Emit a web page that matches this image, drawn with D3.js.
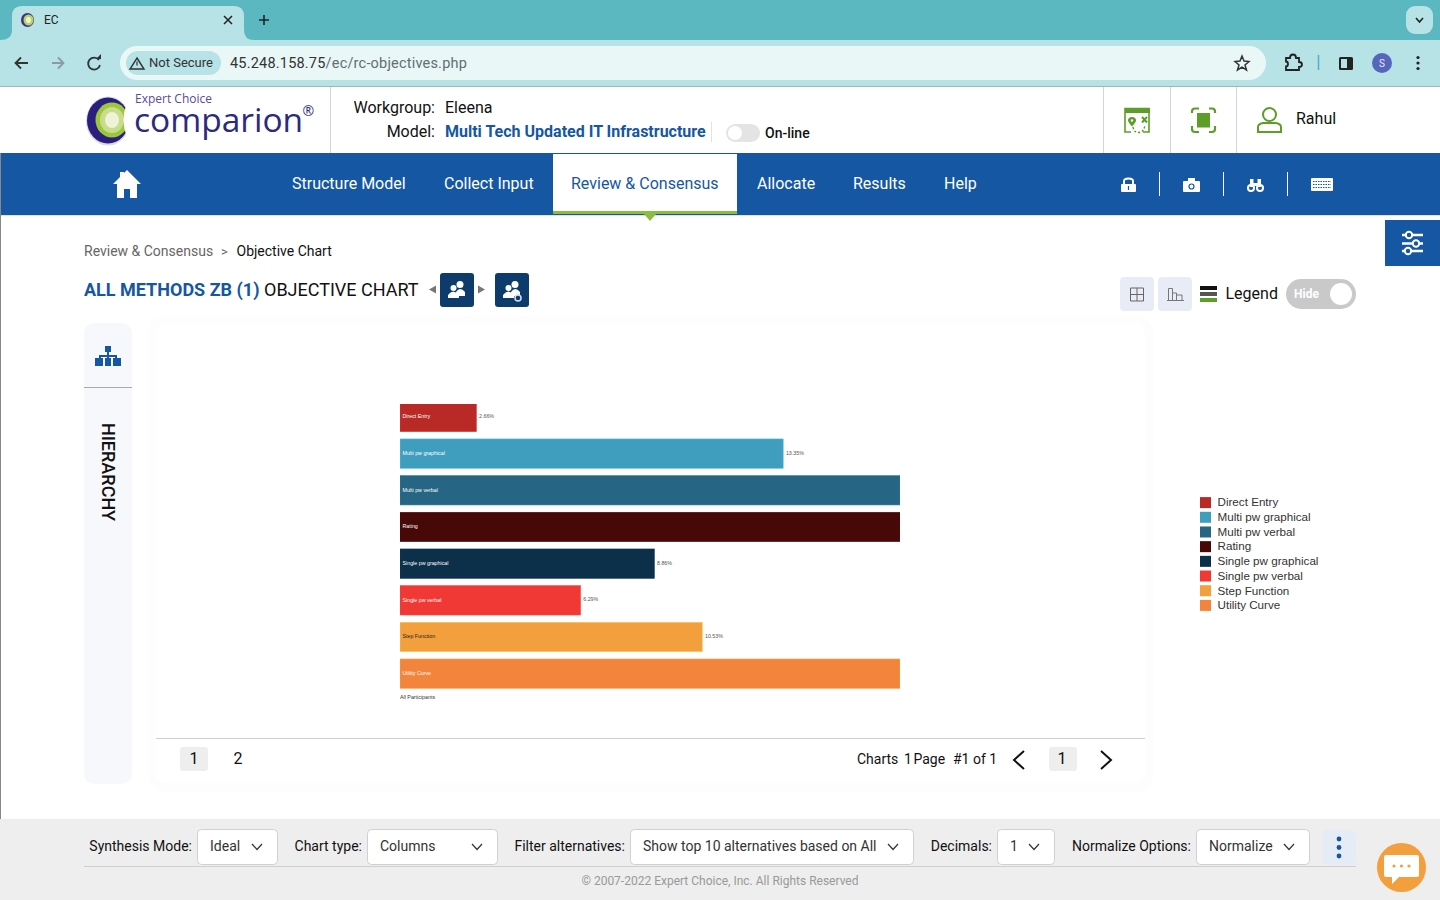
<!DOCTYPE html>
<html>
<head>
<meta charset="utf-8">
<title>EC</title>
<script src="https://cdn.jsdelivr.net/npm/d3@7"></script>
<style>
  html, body { margin: 0; padding: 0; background: #fff; overflow: hidden; }
  svg { display: block; }
  text { font-family: Roboto, sans-serif; }
</style>
</head>
<body>
<svg id="plot" width="1440" height="900"></svg>
<script>
// chart data
var methods = ["Direct Entry", "Multi pw graphical", "Multi pw verbal", "Rating",
  "Single pw graphical", "Single pw verbal", "Step Function", "Utility Curve"];
// three bars run past the plot edge and show no label, those values are estimates
var priorities = [2.66, 13.35, 19.4, 19.5, 8.86, 6.29, 10.53, 19.41];
var showLabel = [true, true, false, false, true, true, true, false];
var barColors = ["#b92a26", "#3f9dbe", "#266684", "#470808", "#0c2f4a", "#f03835", "#f49f3d", "#f2843b"];
var labelColors = ["#fff", "#fff", "#fff", "#fff", "#fff", "#fff", "#222", "#fff"];
var groups = ["All Participants"];
var domainMax = 17.42;

// page text
var navItems = ["Structure Model", "Collect Input", "Review & Consensus", "Allocate", "Results", "Help"];
var navX = [292, 444, 571, 757, 853, 944];
var footerSelects = [
  {label: "Synthesis Mode:", value: "Ideal", x: 197, w: 80},
  {label: "Chart type:", value: "Columns", x: 367, w: 130},
  {label: "Filter alternatives:", value: "Show top 10 alternatives based on All", x: 630, w: 283},
  {label: "Decimals:", value: "1", x: 997, w: 57},
  {label: "Normalize Options:", value: "Normalize", x: 1196, w: 113}
];

var svg = d3.select("#plot");

function rect(x, y, w, h, fill, rx) {
  return svg.append("rect").attr("x", x).attr("y", y).attr("width", w).attr("height", h)
    .attr("fill", fill).attr("rx", rx || 0);
}
function label(x, y, str, size, fill, weight, anchor) {
  return svg.append("text").attr("x", x).attr("y", y).text(str)
    .attr("font-size", size).attr("fill", fill || "#000")
    .attr("font-weight", weight || 400).attr("text-anchor", anchor || "start");
}
function line(x1, y1, x2, y2, stroke, w) {
  return svg.append("line").attr("x1", x1).attr("y1", y1).attr("x2", x2).attr("y2", y2)
    .attr("stroke", stroke).attr("stroke-width", w || 1);
}
function path(d, fill, stroke, w) {
  return svg.append("path").attr("d", d).attr("fill", fill || "none")
    .attr("stroke", stroke || "none").attr("stroke-width", w || 1);
}
function circle(x, y, r, fill, stroke, w) {
  return svg.append("circle").attr("cx", x).attr("cy", y).attr("r", r).attr("fill", fill || "none")
    .attr("stroke", stroke || "none").attr("stroke-width", w || 1);
}
function ellipse(x, y, rx, ry, fill) {
  return svg.append("ellipse").attr("cx", x).attr("cy", y).attr("rx", rx).attr("ry", ry).attr("fill", fill);
}

// browser chrome
rect(0, 0, 1440, 40, "#5cb8c0");
rect(0, 40, 1440, 46, "#b7e2e6");
path("M0 40 Q12 40 12 30 V16 Q12 6 22 6 H234 Q244 6 244 16 V30 Q244 40 254 40 Z", "#b7e2e6");
ellipse(27.5, 20, 6.5, 7, "#3c2f8f");
ellipse(28.5, 20, 5, 5.5, "#b9d45a");
ellipse(28.5, 20, 2.5, 3, "#eef3d8");
label(44, 24, "EC", 12, "#222");
path("M224 16 L232 24 M232 16 L224 24", null, "#222", 1.5);
path("M259 20 H269 M264 15 V25", null, "#222", 1.6);
rect(1406, 6, 27, 28, "#b7e2e6", 9);
path("M1416 18 L1419.5 22 L1423 18", null, "#222", 1.6);
path("M28 63 H16 M21 57.5 L15.5 63 L21 68.5", null, "#333", 1.8);
path("M52 63 H63 M58 57.5 L63.5 63 L58 68.5", null, "#8b9b9e", 1.8);
path("M99 60 A6 6 0 1 0 100 65", null, "#333", 1.8);
path("M96 59 H101 V54 Z", "#333");
rect(120, 46, 1146, 34, "#eaf7f7", 17);
rect(126, 51, 95, 24, "#b7e2e6", 12);
path("M137 58 L144 69 H130 Z", null, "#333", 1.4);
line(137, 61.5, 137, 65.5, "#333", 1.2);
label(149, 67, "Not Secure", 13, "#333");
var urlText = label(230, 68, "45.248.158.75", 14.5, "#333").style("letter-spacing", "0.2px");
urlText.append("tspan").attr("fill", "#5f6f72").text("/ec/rc-objectives.php");
path("M1242 56 L1244 61 L1249 61.5 L1245 65 L1246.5 70 L1242 67.2 L1237.5 70 L1239 65 L1235 61.5 L1240 61 Z", null, "#333", 1.5);
path("M1286 58 H1290 Q1290 54.5 1293 54.5 Q1296 54.5 1296 58 H1299 V62 Q1302 62 1302 64.5 Q1302 67 1299 67 V70 H1286 V66.5 Q1288 66.5 1288 64 Q1288 61.5 1286 61.5 Z", null, "#222", 1.8);
line(1318.5, 55, 1318.5, 70, "#4fb3bd", 1.5);
rect(1339, 57, 14, 13, "#222", 1.5);
rect(1341, 59, 6, 9, "#b7e2e6");
circle(1382, 63, 10, "#5566bb");
label(1382, 67, "S", 10, "#e8eaf6", 400, "middle");
circle(1418, 57.5, 1.6, "#222"); circle(1418, 63, 1.6, "#222"); circle(1418, 68.5, 1.6, "#222");
line(0, 86.5, 1440, 86.5, "#9db8bb");

// app header
line(330.5, 87, 330.5, 153, "#d5d5d5");
ellipse(108, 121, 22, 24.5, "#dcdcdc");
ellipse(108, 120.5, 21, 23, "#2a1f7f");
ellipse(112, 120, 16.5, 17.5, "#9cc63b");
ellipse(112, 120, 12, 13, "#c8dc8a");
ellipse(112, 120, 7, 8, "#eef3d8");
path("M127 103 Q120 120 127 137 L134 137 L134 103 Z", "#fff");
label(135, 103, "Expert Choice", 12, "#5a4a9a", 400).style("font-family", "'Open Sans'");
label(134, 132, "comparion", 33.5, "#2b2a7f", 400).style("font-family", "'Open Sans'");
label(302.5, 116, "®", 14, "#2b2a7f", 400).style("font-family", "'Open Sans'");
label(435, 113, "Workgroup:", 16, "#111", 400, "end");
label(445, 113, "Eleena", 16, "#111");
label(435, 137, "Model:", 16, "#111", 400, "end");
label(445, 137, "Multi Tech Updated IT Infrastructure", 16, "#1557a3", 700);
line(711.5, 122, 711.5, 142, "#e2e2e2");
rect(726, 124, 34, 18, "#e4e4e4", 9);
circle(735, 133, 7, "#fff");
label(765, 138, "On-line", 14, "#111", 500);
[1103.5, 1170.5, 1236.5].forEach(function(x) { line(x, 87, x, 153, "#d5d5d5"); });
// map icon
path("M1131 132 H1125 V108.5 H1149 V132 H1143", null, "#5c9e27", 1.6);
rect(1125, 108, 25, 5, "#5c9e27");
path("M1132 117 Q1136 117 1136 120.5 Q1136 122 1132 126.5 Q1128 122 1128 120.5 Q1128 117 1132 117 Z", "#5c9e27");
circle(1132, 120.5, 1.2, "#fff");
path("M1142 117 L1147 122.5 M1147 117 L1142 122.5", null, "#5c9e27", 2);
path("M1133 127 Q1134 133 1139 132.5 Q1144 132 1145 125", null, "#5c9e27", 1.5).attr("stroke-dasharray", "2 2");
// focus icon
path("M1199 108.5 H1195 Q1192 108.5 1192 111.5 V113 M1209 108.5 H1212 Q1215 108.5 1215 111.5 V113 M1192 126 V129 Q1192 132 1195 132 H1199 M1215 126 V129 Q1215 132 1212 132 H1209", null, "#5c9e27", 2.2);
rect(1197, 113, 13, 14.5, "#5c9e27");
// user
circle(1269.5, 114.5, 6.5, "none", "#5c9e27", 2);
path("M1258 132 V127 Q1258 124 1263 123 H1276 Q1281 124 1281 127 V132 Z", "none", "#5c9e27", 2);
label(1296, 124, "Rahul", 16, "#111");

// nav bar
rect(0, 153, 1440, 62, "#1557a3");
line(0, 215.5, 1440, 215.5, "#dfe3e8");
rect(553, 154, 184, 57, "#fff");
rect(553, 211, 184, 3, "#8bbd3f");
path("M644 214 H656 L650 221 Z", "#8bbd3f");
path("M127 170 L141 184 H137 V198 H130 V189 H124 V198 H117 V184 H113 L120 177 V172 H124 V173 Z", "#fff");
svg.selectAll("text.nav").data(navItems).enter().append("text")
  .attr("class", "nav")
  .attr("x", function(d, i) { return navX[i]; })
  .attr("y", 189)
  .attr("font-size", 16)
  .attr("fill", function(d, i) { return i == 2 ? "#1557a3" : "#fff"; })
  .text(function(d) { return d; });
[1159.5, 1223.5, 1287.5].forEach(function(x) { line(x, 172, x, 196, "#fff"); });
rect(1121, 184, 15, 8, "#fff", 1);
path("M1124 185 V181 Q1124 178.5 1128.5 178.5 Q1133 178.5 1133 181 V185", null, "#fff", 2);
line(1128.5, 186, 1128.5, 190, "#1557a3", 1.2);
rect(1183, 181, 17, 11, "#fff", 1);
rect(1188, 178, 7, 3, "#fff");
circle(1191.5, 186.5, 2.5, "none", "#1557a3", 1.2);
circle(1251, 188, 4, "#fff");
circle(1260, 188, 4, "#fff");
circle(1251, 188, 2, "#1557a3");
circle(1260, 188, 2, "#1557a3");
rect(1250, 179, 3.5, 8, "#fff");
rect(1257.5, 179, 3.5, 8, "#fff");
rect(1253, 183, 5, 3, "#fff");
rect(1311, 178, 22, 13, "#fff", 1);
[181, 184, 187].forEach(function(y) {
  line(1313, y + 0.5, 1331, y + 0.5, "#1557a3", 1.2).attr("stroke-dasharray", "1.5 1");
});

// page border and settings button
line(0.5, 153, 0.5, 820, "#888");
rect(1385, 220, 55, 46, "#1557a3");
[235, 243.5, 251].forEach(function(y, i) {
  line(1402, y, 1423, y, "#fff", 2.5);
  circle([1409, 1416, 1408][i], y, 3.2, "#1557a3", "#fff", 2);
});

// breadcrumb and title
label(84, 256, "Review & Consensus", 14, "#666");
label(221, 256, ">", 13, "#666");
label(236.5, 256, "Objective Chart", 14, "#111");
label(84, 296, "ALL METHODS ZB (1)", 18, "#1557a3", 700);
label(264, 296, "OBJECTIVE CHART", 18, "#111");
path("M429 289.5 L436 285.5 V293.5 Z", "#777");
path("M485 289.5 L478 285.5 V293.5 Z", "#777");
[440, 495].forEach(function(x) { rect(x, 273, 34, 34, "#0d3b6c", 3); });
function people(cx) {
  circle(cx + 3, 284.5, 3.5, "#fff");
  path("M" + (cx - 1) + " 296 V292 Q" + (cx + 3) + " 286 " + (cx + 8) + " 292 V296 Z", "#fff");
  circle(cx - 3.5, 288, 3, "#fff");
  path("M" + (cx - 9) + " 298 V295 Q" + (cx - 4) + " 288 " + (cx + 2) + " 295 V298 Z", "#fff");
}
people(457);
people(512);
circle(518, 298, 3, "#0d3b6c", "#cfe0f5", 1.5);

// legend toggle row
rect(1120, 277, 34, 34, "#e8ecf6", 4);
rect(1158, 277, 34, 34, "#e8ecf6", 4);
path("M1130.5 288 H1143.5 V301 H1130.5 Z M1137 288 V301 M1130.5 294.5 H1143.5", null, "#666");
path("M1167 300.5 H1184 M1168.5 300 V288.5 H1172.5 V300 M1172.5 293 H1176.5 V300 M1176.5 295 H1182 V300", null, "#777");
rect(1200, 286, 17, 4, "#111");
rect(1200, 292, 17, 4, "#555");
rect(1200, 298, 17, 4, "#5c9e27");
label(1225.5, 299, "Legend", 16, "#111");
rect(1286, 279, 70, 30, "#c9c9c9", 15);
circle(1341, 294, 11, "#fff");
label(1294, 298, "Hide", 12, "#fff", 700);

// side panel and chart panel
rect(84, 323, 48, 461, "#f6f8fc", 10);
line(84, 387.5, 132, 387.5, "#a9a9a9");
path("M105 346 H111 V352 H109 V355 H117 V358 H121 V366 H113 V358 H115 V357 H109 V358 H111 V366 H105 V358 H107 V357 H101 V358 H103 V366 H95 V358 H99 V355 H107 V352 H105 Z", "#1557a3");
svg.append("text").text("HIERARCHY")
  .attr("transform", "translate(102,423) rotate(90)")
  .attr("font-size", 18).attr("font-weight", 500).attr("fill", "#111");

rect(148, 316, 1005, 476, "#fdfdfd", 16);
rect(156, 323, 989, 460, "#fff", 10);
line(156, 738.5, 1145, 738.5, "#cfcfcf");

// the chart itself
var x = d3.scaleLinear().domain([0, domainMax]).range([400, 900]).clamp(true);
var y = d3.scaleBand().domain(methods).range([398.6, 692]).paddingInner(0.2).paddingOuter(0.1);

svg.append("clipPath").attr("id", "plotClip")
  .append("rect").attr("x", 400).attr("y", 404).attr("width", 500).attr("height", 288);

var plot = svg.append("g").attr("clip-path", "url(#plotClip)");

plot.selectAll("rect.bar").data(methods).enter().append("rect")
  .attr("class", "bar")
  .attr("x", x(0))
  .attr("y", function(d) { return y(d); })
  .attr("width", function(d, i) { return x(priorities[i]) - x(0); })
  .attr("height", y.bandwidth())
  .attr("fill", function(d, i) { return barColors[i]; })
  .attr("stroke", function(d, i) { return d3.color(barColors[i]).brighter(0.6); })
  .attr("stroke-width", 0.6);

svg.selectAll("text.barname").data(methods).enter().append("text")
  .attr("class", "barname")
  .attr("x", x(0) + 2.5)
  .attr("y", function(d, i) { return (i == 0 ? 417.5 : y(d) + y.bandwidth() / 2 + 1.3); })
  .attr("font-size", 5.3)
  .style("font-family", "'Liberation Sans'")
  .attr("fill", function(d, i) { return labelColors[i]; })
  .text(function(d) { return d; });

svg.selectAll("text.barvalue").data(methods).enter().append("text")
  .attr("class", "barvalue")
  .attr("x", function(d, i) { return x(priorities[i]) + 2.7; })
  .attr("y", function(d, i) { return (i == 0 ? 417.5 : y(d) + y.bandwidth() / 2 + 1); })
  .attr("font-size", 5.3)
  .style("font-family", "'Liberation Sans'")
  .attr("fill", "#555")
  .text(function(d, i) { return showLabel[i] ? priorities[i].toFixed(2) + "%" : ""; });

var groupAxis = d3.scaleBand().domain(groups).range([400, 435]);
svg.selectAll("text.group").data(groups).enter().append("text")
  .attr("class", "group")
  .attr("x", function(d) { return groupAxis(d); })
  .attr("y", 699)
  .attr("font-size", 5.3)
  .style("font-family", "'Liberation Sans'")
  .attr("fill", "#333")
  .text(function(d) { return d; });

// legend
var legendRow = d3.scalePoint().domain(methods).range([502.6, 605.4]);
var legend = svg.selectAll("g.legend").data(methods).enter().append("g")
  .attr("class", "legend")
  .attr("transform", function(d) { return "translate(1200," + legendRow(d) + ")"; });
legend.append("rect")
  .attr("x", 0).attr("y", -5.5).attr("width", 11).attr("height", 11)
  .attr("fill", function(d, i) { return barColors[i]; });
legend.append("text")
  .attr("x", 17.5).attr("y", 3.8)
  .attr("font-size", 11.65)
  .style("font-family", "'Liberation Sans'")
  .attr("fill", "#333")
  .text(function(d) { return d; });

// pagination
rect(180, 747, 28, 24, "#eeeeee", 3);
label(194, 764, "1", 16, "#111", 400, "middle");
label(238, 764, "2", 16, "#111", 400, "middle");
label(857, 764, "Charts", 14, "#111");
label(904, 764, "1", 14, "#111");
label(913.5, 764, "Page", 14, "#111");
label(953, 764, "#1 of 1", 14, "#111");
path("M1024 751 L1014 760 L1024 769", null, "#111", 2);
rect(1049, 747, 28, 24, "#eeeeee", 3);
label(1062, 764, "1", 16, "#111", 400, "middle");
path("M1101 751 L1111 760 L1101 769", null, "#111", 2);

// footer bar
rect(0, 819, 1440, 81, "#eeeeee");
footerSelects.forEach(function(s) {
  label(s.x - 5, 851, s.label, 14, "#111", 400, "end");
  rect(s.x + 0.5, 829.5, s.w, 35, "#fff", 4).attr("stroke", "#d0d0d0");
  label(s.x + 13, 851, s.value, 14, "#333");
  var ax = s.x + s.w - 25;
  path("M" + ax + " 844 L" + (ax + 5) + " 849.5 L" + (ax + 10) + " 844", null, "#333", 1.2);
});
line(84, 866.5, 1356, 866.5, "#cfcfcf");
rect(1322, 830, 34, 35, "#e6ecf6", 5);
[839, 847.5, 856].forEach(function(y) { circle(1339, y, 2.4, "#1557a3"); });
label(720, 885, "© 2007-2022 Expert Choice, Inc. All Rights Reserved", 12, "#999", 400, "middle");
circle(1401.5, 867.5, 24.5, "#f49f3d");
path("M1386 855 H1417 Q1419 855 1419 857 V875 Q1419 877 1417 877 H1399 L1392 884 V877 H1386 Q1384 877 1384 875 V857 Q1384 855 1386 855 Z", "#fff");
[1394, 1401.5, 1409].forEach(function(x) { circle(x, 866, 1.6, "#f49f3d"); });
</script>
</body>
</html>
